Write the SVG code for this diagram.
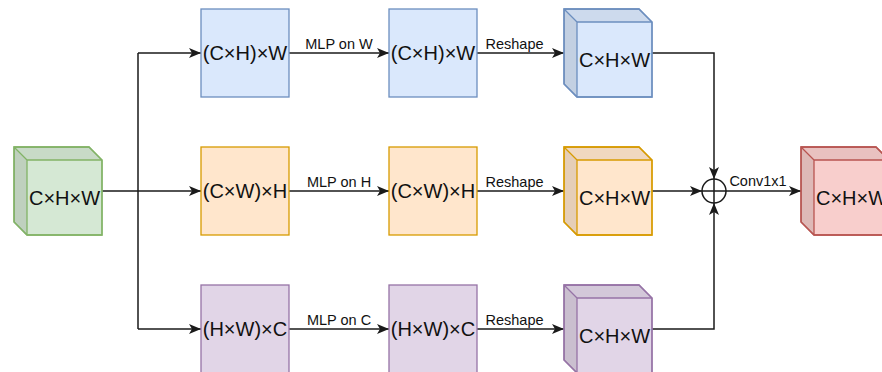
<svg xmlns="http://www.w3.org/2000/svg" width="882" height="372" viewBox="0 0 882 372">
  <style>
    .box { stroke-width: 1.3; }
    .blue { fill: #dae8fc; stroke: #6c8ebf; }
    .orange { fill: #ffe6cc; stroke: #d79b00; }
    .purple { fill: #e1d5e7; stroke: #9673a6; }
    .green { fill: #d5e8d4; stroke: #82b366; }
    .red { fill: #f8cecc; stroke: #b85450; }
    .shade1 { fill: #000; fill-opacity: 0.06; stroke: none; }
    .shade2 { fill: #000; fill-opacity: 0.1; stroke: none; }
    .edge { fill: none; stroke: #1a1a1a; stroke-width: 1.5; }
    .arrow { marker-end: url(#head); }
    .big { font-family: "Liberation Sans", Arial, sans-serif; font-size: 20px; fill: #111; text-anchor: middle; }
    .lbl { font-family: "Liberation Sans", Arial, sans-serif; font-size: 14.5px; fill: #111; text-anchor: middle; }
  </style>
  <defs>
    <marker id="head" viewBox="0 0 12 10" refX="12" refY="5" markerWidth="12" markerHeight="10" markerUnits="userSpaceOnUse" orient="auto">
      <path d="M0,0 L12,5 L0,10 L3,5 Z" fill="#1a1a1a"/>
    </marker>
    <!-- cube outline: 88x88 box, depth 13 -->
    <g id="cubeShape">
      <path class="box" d="M0,0 H75 L88,13 V88 H13 L0,75 Z"/>
      <path class="shade1" d="M0,0 H75 L88,13 H13 Z"/>
      <path class="shade2" d="M0,0 L13,13 V88 L0,75 Z"/>
      <path d="M0,0 H75 L88,13 V88 H13 L0,75 Z M13,13 H88 M13,13 V88 M0,0 L13,13" fill="none" stroke="inherit" stroke-width="1.3"/>
    </g>
  </defs>

  <!-- connectors -->
  <g id="connectors">
    <path class="edge" d="M102,191 H138 M138,53 V329"/>
    <path class="edge arrow" d="M138,53 H201"/>
    <path class="edge arrow" d="M138,191 H201"/>
    <path class="edge arrow" d="M138,329 H201"/>

    <path class="edge arrow" d="M289,53 H389"/>
    <path class="edge arrow" d="M289,191 H389"/>
    <path class="edge arrow" d="M289,329 H389"/>

    <path class="edge arrow" d="M477,53 H564"/>
    <path class="edge arrow" d="M477,191 H564"/>
    <path class="edge arrow" d="M477,329 H564"/>

    <path class="edge arrow" d="M652,53 H714 V179"/>
    <path class="edge arrow" d="M652,191 H702"/>
    <path class="edge arrow" d="M652,329 H714 V203"/>
    <path class="edge arrow" d="M726,191 H801"/>

    <text class="lbl" x="339" y="49">MLP on W</text>
    <text class="lbl" x="339" y="187">MLP on H</text>
    <text class="lbl" x="339" y="325">MLP on C</text>
    <text class="lbl" x="514.5" y="49">Reshape</text>
    <text class="lbl" x="514.5" y="187">Reshape</text>
    <text class="lbl" x="514.5" y="325">Reshape</text>
    <text class="lbl" x="758" y="186">Conv1x1</text>
  </g>

  <!-- input tensor -->
  <g id="input">
    <g transform="translate(14,147)" class="green"><use href="#cubeShape"/></g>
    <text class="big" x="64.5" y="204.5">C×H×W</text>
  </g>

  <!-- top branch -->
  <g id="w-in">
    <rect class="box blue" x="201" y="9" width="88" height="88"/>
    <text class="big" x="245" y="60">(C×H)×W</text>
  </g>
  <g id="w-out">
    <rect class="box blue" x="389" y="9" width="88" height="88"/>
    <text class="big" x="433" y="60">(C×H)×W</text>
  </g>
  <g id="w-cube">
    <g transform="translate(564,9)" class="blue"><use href="#cubeShape"/></g>
    <text class="big" x="614.5" y="66.5">C×H×W</text>
  </g>

  <!-- middle branch -->
  <g id="h-in">
    <rect class="box orange" x="201" y="147" width="88" height="88"/>
    <text class="big" x="245" y="198">(C×W)×H</text>
  </g>
  <g id="h-out">
    <rect class="box orange" x="389" y="147" width="88" height="88"/>
    <text class="big" x="433" y="198">(C×W)×H</text>
  </g>
  <g id="h-cube">
    <g transform="translate(564,147)" class="orange"><use href="#cubeShape"/></g>
    <text class="big" x="614.5" y="204.5">C×H×W</text>
  </g>

  <!-- bottom branch -->
  <g id="c-in">
    <rect class="box purple" x="201" y="285" width="88" height="88"/>
    <text class="big" x="245" y="336">(H×W)×C</text>
  </g>
  <g id="c-out">
    <rect class="box purple" x="389" y="285" width="88" height="88"/>
    <text class="big" x="433" y="336">(H×W)×C</text>
  </g>
  <g id="c-cube">
    <g transform="translate(564,285)" class="purple"><use href="#cubeShape"/></g>
    <text class="big" x="614.5" y="342.5">C×H×W</text>
  </g>

  <!-- sum node -->
  <g id="sum">
    <circle cx="714" cy="191" r="12" fill="#fff" stroke="#1a1a1a" stroke-width="1.5"/>
    <path d="M702,191 H726 M714,179 V203" stroke="#1a1a1a" stroke-width="1.5"/>
  </g>

  <!-- output tensor -->
  <g id="output">
    <g transform="translate(801,147)" class="red"><use href="#cubeShape"/></g>
    <text class="big" x="851.5" y="204.5">C×H×W</text>
  </g>
</svg>
